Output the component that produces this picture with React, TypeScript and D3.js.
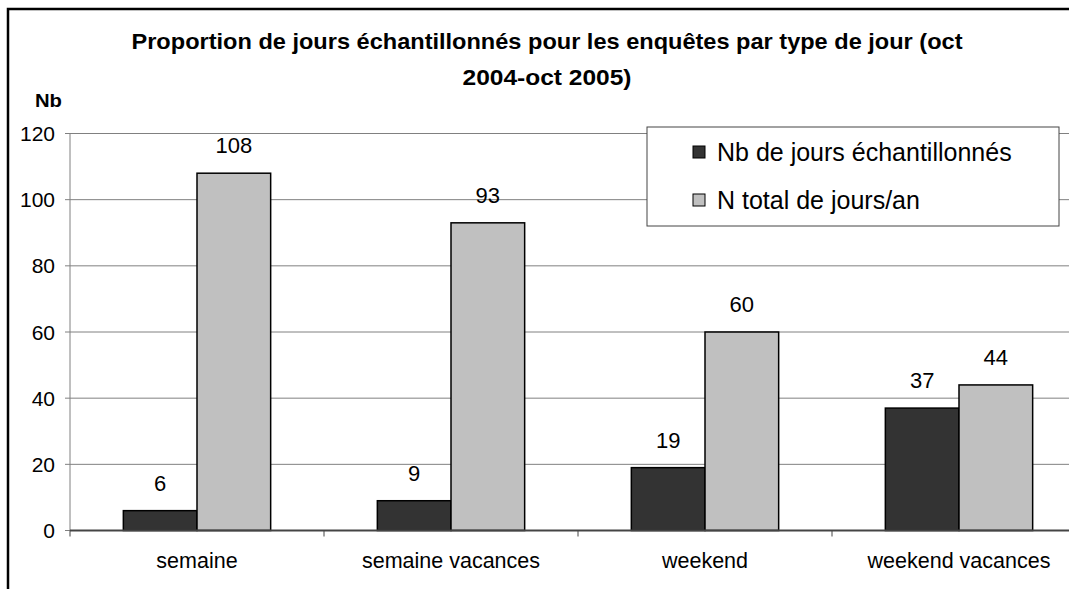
import React from 'react';
import * as d3 from 'd3';

const categories = ['semaine', 'semaine vacances', 'weekend', 'weekend vacances'];
const seriesNames = ['Nb de jours échantillonnés', 'N total de jours/an'];
const sampledDays = [6, 9, 19, 37];
const totalDays = [108, 93, 60, 44];
const yTicks = [0, 20, 40, 60, 80, 100, 120];
const titleLines = ['Proportion de jours échantillonnés pour les enquêtes par type de jour (oct', '2004-oct 2005)'];

const W = 1069;
const H = 589;
const FONT = '"Liberation Sans", Arial, sans-serif';
const colors = ['#333333', '#c0c0c0'];

const App: React.FC = () => {
    const left = 70;
    const step = 254;
    const x0 = d3.scaleBand<string>()
        .domain(categories)
        .range([left, left + step * categories.length])
        .paddingInner(0.42)
        .paddingOuter(0.21);
    const x1 = d3.scaleBand<string>()
        .domain(seriesNames)
        .range([0, x0.bandwidth()]);
    const y = d3.scaleLinear().domain([0, 120]).range([530.5, 133.5]);

    const rows = categories.map((c, i) => ({ cat: c, vals: [sampledDays[i], totalDays[i]] }));
    const boundaries = categories.map((c, i) => left + i * step).concat([left + step * categories.length]);

    return (
        <svg width={W} height={H} style={{ position: 'absolute', left: 0, top: 0, background: '#fff' }} fontFamily={FONT}>
            {/* frame */}
            <rect x={8} y={9} width={1300} height={900} fill="none" stroke="#000" strokeWidth={2.5} />

            {/* title */}
            <text x={547} y={49} textAnchor="middle" fontSize={22} fontWeight="bold"
                textLength={831} lengthAdjust="spacingAndGlyphs">{titleLines[0]}</text>
            <text x={547} y={85} textAnchor="middle" fontSize={22} fontWeight="bold"
                textLength={169} lengthAdjust="spacingAndGlyphs">{titleLines[1]}</text>
            <text x={35} y={107} fontSize={18} fontWeight="bold" textLength={27} lengthAdjust="spacingAndGlyphs">Nb</text>

            {/* grid + y axis */}
            {yTicks.map(t => (
                <g key={t}>
                    {t > 0 && <line x1={left} x2={W} y1={y(t)} y2={y(t)} stroke="#808080" strokeWidth={1} />}
                    <line x1={left - 5} x2={left} y1={y(t)} y2={y(t)} stroke="#808080" strokeWidth={1} />
                    <text x={55} y={y(t) + 7.5} textAnchor="end" fontSize={21}>{t}</text>
                </g>
            ))}
            <line x1={left} x2={left} y1={y(120)} y2={y(0)} stroke="#808080" strokeWidth={1} />

            {/* bars */}
            {rows.map(r => (
                <g key={r.cat} transform={`translate(${x0(r.cat)},0)`}>
                    {r.vals.map((v, j) => (
                        <g key={j}>
                            <rect x={x1(seriesNames[j])} y={y(v)} width={x1.bandwidth()} height={y(0) - y(v)}
                                fill={colors[j]} stroke="#000" strokeWidth={1.5} />
                            <text x={(x1(seriesNames[j]) as number) + x1.bandwidth() / 2} y={y(v) - 20}
                                textAnchor="middle" fontSize={22}>{v}</text>
                        </g>
                    ))}
                </g>
            ))}

            {/* x axis */}
            <line x1={left} x2={W} y1={y(0)} y2={y(0)} stroke="#444" strokeWidth={2} />
            {boundaries.map((b, i) => (
                <line key={i} x1={b} x2={b} y1={y(0)} y2={y(0) + 6} stroke="#444" strokeWidth={1} />
            ))}
            {categories.map(c => (
                <text key={c} x={(x0(c) as number) + x0.bandwidth() / 2} y={568} textAnchor="middle" fontSize={21.5}>{c}</text>
            ))}

            {/* legend */}
            <rect x={647} y={127} width={412} height={99} fill="#fff" stroke="#444" strokeWidth={1} />
            {seriesNames.map((s, i) => (
                <g key={s} transform={`translate(693,${152 + i * 48})`}>
                    <rect x={0} y={-6} width={12} height={12} fill={colors[i]} stroke="#000" strokeWidth={1} />
                    <text x={24} y={9} fontSize={25}>{s}</text>
                </g>
            ))}
        </svg>
    );
};

export default App;
